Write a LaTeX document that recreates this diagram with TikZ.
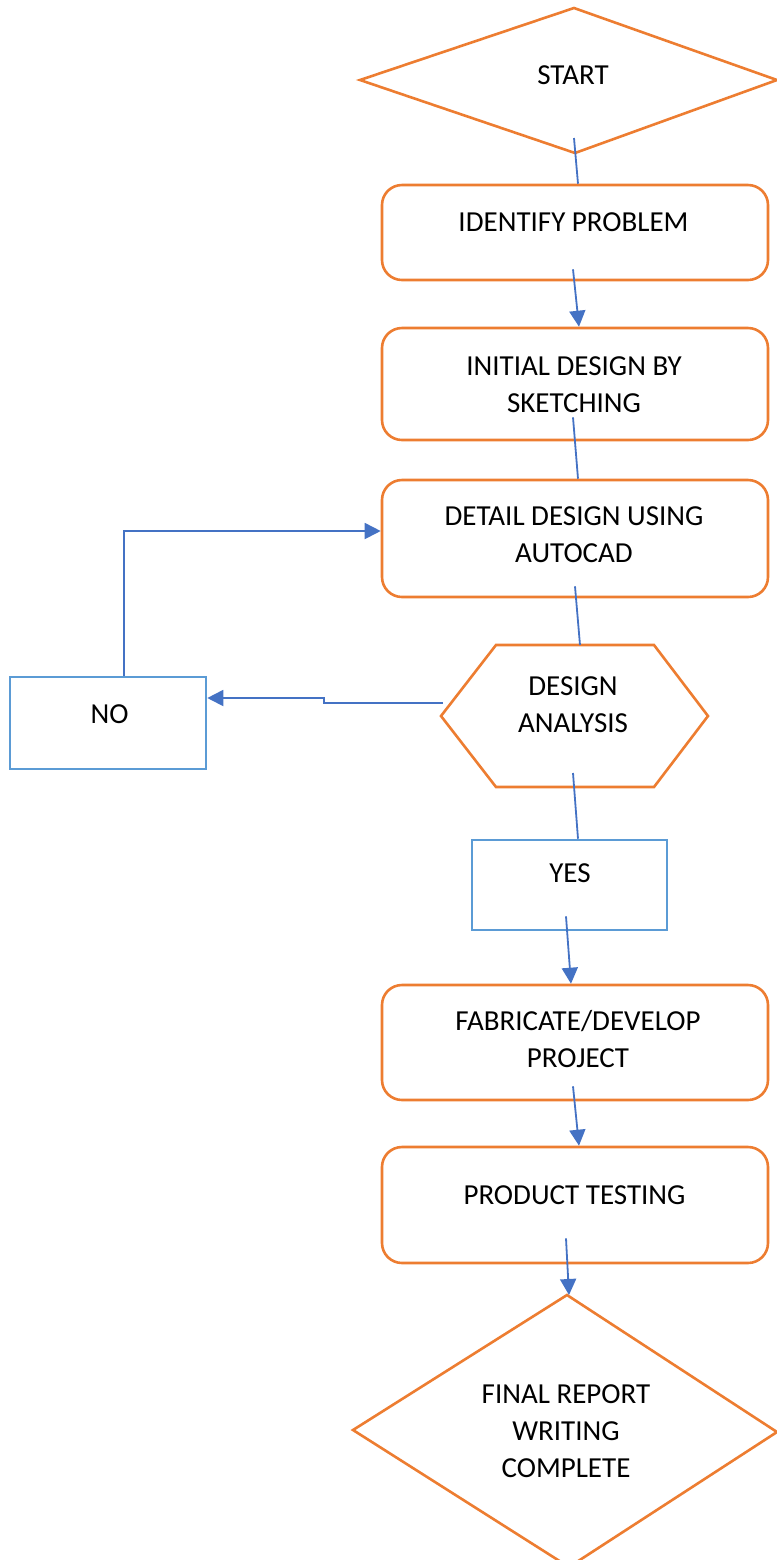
\documentclass[tikz,border=0pt]{standalone}
\usepackage{fontspec}
\setmainfont{Carlito}
\usetikzlibrary{arrows.meta,calc}
\definecolor{ora}{HTML}{ED7D31}
\definecolor{blu}{HTML}{4472C4}
\definecolor{lblu}{HTML}{5B9BD5}
\begin{document}
\begin{tikzpicture}[x=0.5pt,y=-0.5pt,
  obox/.style={draw=ora, line width=1.3pt, fill=white, rounded corners=10pt, minimum width=193pt, inner sep=0pt},
  bbox/.style={draw=lblu, line width=1.3pt, fill=white, inner sep=0pt},
  oshape/.style={draw=ora, line width=1.3pt, fill=white, line join=miter},
  txt/.style={font=\fontsize{14.5}{18.5}\selectfont, align=center, inner sep=0pt, text=black},
  conn/.style={draw=blu, line width=0.9pt},
  arr/.style={conn, -{Triangle[length=8pt,width=8pt]}}]
\useasboundingbox (0,0) rectangle (777,1560);

% START diamond
\draw[oshape] (574,8) -- (777,80) -- (575,153) -- (360,80) -- cycle;
\coordinate (startbot) at (575,153);
\node[txt] (start) at (573,75) {START};

% boxes
\node[obox, minimum height=47.5pt] (identify) at (575,232.5) {};
\node[txt] (identifyt) at (573.5,222) {IDENTIFY PROBLEM};

\node[obox, minimum height=56pt] (initial) at (575,384) {};
\node[txt] (initialt) at (574,384.5) {INITIAL DESIGN BY\\SKETCHING};

\node[obox, minimum height=58.5pt] (detail) at (575,538.5) {};
\node[txt] (detailt) at (574,535) {DETAIL DESIGN USING\\AUTOCAD};

% hexagon
\draw[oshape] (496,645) -- (654,645) -- (708,716) -- (654,787) -- (496,787) -- (441,716) -- cycle;
\coordinate (hextop) at (573,645);
\coordinate (hexbot) at (573,787);
\coordinate (hexleft) at (443,703);
\node[txt] (hext) at (573,705) {DESIGN\\ANALYSIS};

% NO / YES
\node[bbox, minimum width=98pt, minimum height=46pt] (no) at (108,723) {};
\node[txt] (not) at (109.5,714) {NO};
\node[bbox, minimum width=97.5pt, minimum height=45pt] (yes) at (569.5,885) {};
\node[txt] (yest) at (570,873) {YES};

\node[obox, minimum height=57.5pt] (fab) at (575,1042.5) {};
\node[txt] (fabt) at (578,1039.5) {FABRICATE/DEVELOP\\PROJECT};

\node[obox, minimum height=58pt] (prod) at (575,1205) {};
\node[txt] (prodt) at (574.5,1195) {PRODUCT TESTING};

% final diamond
\draw[oshape] (567,1295) -- (777,1432) -- (569,1567) -- (353,1430) -- cycle;
\coordinate (finaltop) at (569,1295);
\node[txt] (finalt) at (566,1431) {FINAL REPORT\\WRITING\\COMPLETE};

% connectors
\draw[conn] ($(startbot)+(-1,-15)$) -- ($(identify.north)+(3,0)$);
\draw[arr] ($(identify.south)+(-2,-12)$) -- ($(initial.north)+(4,0)$);
\draw[conn] ($(initial.south)+(-2,-24)$) -- ($(detail.north)+(3,0)$);
\draw[conn] ($(detail.south)+(0,-12)$) -- ($(hextop)+(7,0)$);
\draw[conn] ($(hexbot)+(0,-14)$) -- ($(yes.north)+(8.5,0)$);
\draw[arr] ($(yes.south)+(-3.5,-15)$) -- ($(fab.north)+(-4,0)$);
\draw[arr] ($(fab.south)+(-2,-15)$) -- ($(prod.north)+(4,0)$);
\draw[arr] ($(prod.south)+(-9,-26)$) -- (finaltop);

\draw[arr] (hexleft) -- (324,703) -- (324,698) -- ($(no.east)+(0,-25)$);
\draw[arr] ($(no.north)+(16,0)$) -- (124,531) -- ($(detail.west)+(0,-7.5)$);
\end{tikzpicture}
\end{document}
